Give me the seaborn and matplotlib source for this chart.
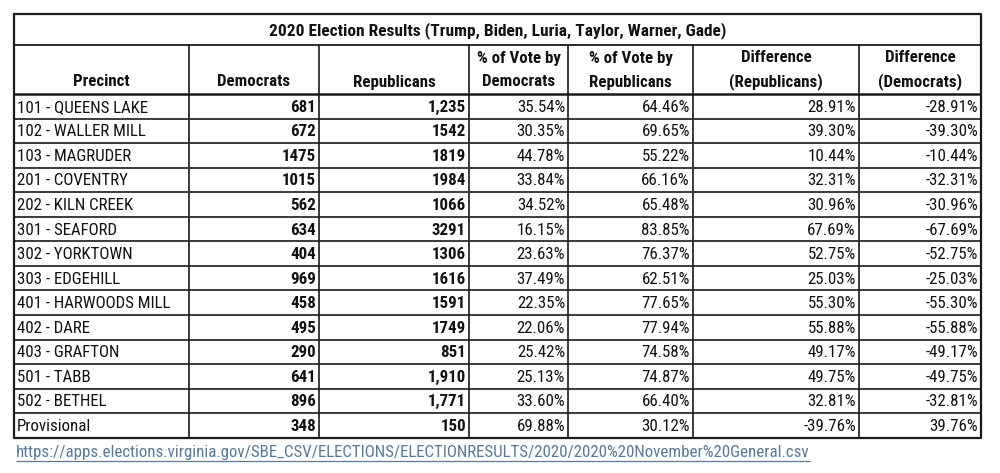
import matplotlib
matplotlib.use("Agg")
import matplotlib.pyplot as plt
import seaborn as sns
from matplotlib import font_manager

precincts = ["101 - QUEENS LAKE", "102 - WALLER MILL", "103 - MAGRUDER", "201 - COVENTRY",
             "202 - KILN CREEK", "301 - SEAFORD", "302 - YORKTOWN", "303 - EDGEHILL",
             "401 - HARWOODS MILL", "402 - DARE", "403 - GRAFTON", "501 - TABB",
             "502 - BETHEL", "Provisional"]
dem_votes = [681, 672, 1475, 1015, 562, 634, 404, 969, 458, 495, 290, 641, 896, 348]
rep_votes = [1235, 1542, 1819, 1984, 1066, 3291, 1306, 1616, 1591, 1749, 851, 1910, 1771, 150]
rep_comma = [True, False, False, False, False, False, False, False, False, False, False, True, True, False]
dem_pct = [35.54, 30.35, 44.78, 33.84, 34.52, 16.15, 23.63, 37.49, 22.35, 22.06, 25.42, 25.13, 33.60, 69.88]
rep_pct = [64.46, 69.65, 55.22, 66.16, 65.48, 83.85, 76.37, 62.51, 77.65, 77.94, 74.58, 74.87, 66.40, 30.12]
diff_rep = [28.91, 39.30, 10.44, 32.31, 30.96, 67.69, 52.75, 25.03, 55.30, 55.88, 49.17, 49.75, 32.81, -39.76]
diff_dem = [-28.91, -39.30, -10.44, -32.31, -30.96, -67.69, -52.75, -25.03, -55.30, -55.88, -49.17, -49.75, -32.81, 39.76]

title = "2020 Election Results (Trump, Biden, Luria, Taylor, Warner, Gade)"
headers = ["Precinct", "Democrats", "Republicans", "% of Vote by\nDemocrats",
           "% of Vote by\nRepublicans", "Difference\n(Republicans)", "Difference\n(Democrats)"]
source_url = "https://apps.elections.virginia.gov/SBE_CSV/ELECTIONS/ELECTIONRESULTS/2020/2020%20November%20General.csv"

sns.set_theme(style="white")
names = {f.name for f in font_manager.fontManager.ttflist}
fam = [f for f in ["Liberation Sans Narrow", "Roboto Condensed", "DejaVu Sans"] if f in names] or ["DejaVu Sans"]
plt.rcParams["font.family"] = fam + ["DejaVu Sans"]

fig = plt.figure(figsize=(10, 4.73), dpi=100)
ax = fig.add_axes([0, 0, 1, 1])
ax.set_xlim(0, 1000)
ax.set_ylim(473, 0)
ax.axis("off")

col_x = [14, 189, 319, 469, 568, 693, 859, 981]
top, title_bot, head_bot = 14, 45, 94
row_h = 24.55
n = len(precincts)
bottom = head_bot + n * row_h

lc = "#1a1a1a"
# outer border
ax.plot([col_x[0], col_x[-1], col_x[-1], col_x[0], col_x[0]],
        [top, top, bottom, bottom, top], color=lc, lw=1.6)
# horizontal lines
ax.hlines(title_bot, col_x[0], col_x[-1], color=lc, lw=1.3)
ax.hlines(head_bot, col_x[0], col_x[-1], color=lc, lw=1.8)
for i in range(1, n):
    ax.hlines(head_bot + i * row_h, col_x[0], col_x[-1], color=lc, lw=1.2)
# vertical lines
for x in col_x[1:-1]:
    ax.vlines(x, title_bot, bottom, color=lc, lw=1.2)

fs = 12.2
ax.text((col_x[0] + col_x[-1]) / 2, (top + title_bot) / 2 + 1, title, ha="center", va="center",
        fontsize=fs + 0.3, fontweight="bold", color="#111111")

for j, h in enumerate(headers):
    cx = (col_x[j] + col_x[j + 1]) / 2
    lines = h.split("\n")
    if len(lines) == 1:
        ax.text(cx, 82, lines[0], ha="center", va="center", fontsize=fs, fontweight="bold", color="#111111")
    else:
        ax.text(cx, 58, lines[0], ha="center", va="center", fontsize=fs, fontweight="bold", color="#111111")
        ax.text(cx, 82, lines[1], ha="center", va="center", fontsize=fs, fontweight="bold", color="#111111")

pad = 3
for i in range(n):
    cy = head_bot + (i + 0.5) * row_h + 1
    ax.text(col_x[0] + pad, cy, precincts[i], ha="left", va="center", fontsize=fs, color="#111111")
    ax.text(col_x[2] - pad, cy, f"{dem_votes[i]}", ha="right", va="center", fontsize=fs,
            fontweight="bold", color="#111111")
    rv = f"{rep_votes[i]:,}" if rep_comma[i] else f"{rep_votes[i]}"
    ax.text(col_x[3] - pad, cy, rv, ha="right", va="center", fontsize=fs, fontweight="bold", color="#111111")
    for k, arr in enumerate([dem_pct, rep_pct, diff_rep, diff_dem]):
        ax.text(col_x[4 + k] - pad, cy, f"{arr[i]:.2f}%", ha="right", va="center", fontsize=fs, color="#111111")

t = ax.text(col_x[0] + 2, 452, source_url, ha="left", va="center", fontsize=fs, color="#5b7896")
fig.canvas.draw()
bb = t.get_window_extent().transformed(ax.transData.inverted())
ax.hlines(461, bb.x0, bb.x1, color="#5b7896", lw=0.9)

fig.savefig("out.png", dpi=100, facecolor="white")
